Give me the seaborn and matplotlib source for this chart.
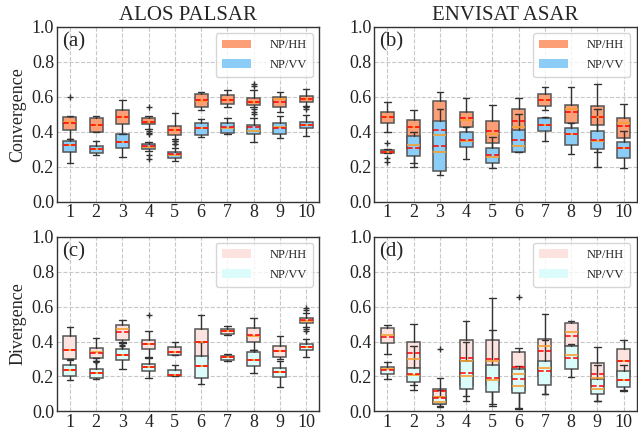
import matplotlib
matplotlib.use("Agg")
import matplotlib.pyplot as plt
from matplotlib.patches import Patch
import seaborn as sns

# categories
cats = [str(i) for i in range(1, 11)]

# box summaries: (whislo, q1, median, q3, whishi)
# (a) ALOS PALSAR - convergence
a_hh = [(0.36, 0.41, 0.455, 0.487, 0.49), (0.398, 0.40, 0.437, 0.476, 0.49),
        (0.39, 0.447, 0.487, 0.525, 0.58), (0.418, 0.447, 0.458, 0.476, 0.49),
        (0.36, 0.38, 0.41, 0.433, 0.506), (0.524, 0.539, 0.578, 0.615, 0.629),
        (0.539, 0.558, 0.583, 0.61, 0.64), (0.539, 0.552, 0.573, 0.592, 0.64),
        (0.514, 0.543, 0.587, 0.60, 0.63), (0.548, 0.573, 0.588, 0.602, 0.644)]
a_hh_mean = [0.453, 0.437, 0.487, 0.458, 0.412, 0.581, 0.583, 0.571, 0.571, 0.59]
a_hh_fliers = [[0.60], [], [], [0.539, 0.405, 0.395, 0.385], [0.347, 0.332],
               [], [], [0.676, 0.663, 0.53, 0.515, 0.50], [], [0.54, 0.533]]
a_vv = [(0.219, 0.286, 0.322, 0.347, 0.36), (0.27, 0.28, 0.30, 0.319, 0.347),
        (0.254, 0.31, 0.343, 0.39, 0.39), (0.29, 0.30, 0.315, 0.328, 0.343),
        (0.232, 0.25, 0.27, 0.286, 0.31), (0.368, 0.383, 0.42, 0.453, 0.472),
        (0.387, 0.392, 0.423, 0.448, 0.476), (0.343, 0.39, 0.406, 0.44, 0.48),
        (0.364, 0.387, 0.425, 0.448, 0.488), (0.377, 0.419, 0.436, 0.457, 0.495)]
a_vv_mean = [0.322, 0.30, 0.343, 0.317, 0.275, 0.42, 0.425, 0.425, 0.423, 0.438]
a_vv_fliers = [[], [], [], [0.267, 0.242], [0.33, 0.35], [], [], [], [], []]

# (b) ENVISAT ASAR - convergence
b_hh = [(0.40, 0.453, 0.484, 0.514, 0.573), (0.22, 0.30, 0.425, 0.467, 0.524),
        (0.20, 0.30, 0.383, 0.577, 0.625), (0.40, 0.43, 0.468, 0.516, 0.596),
        (0.30, 0.335, 0.387, 0.459, 0.552), (0.30, 0.35, 0.43, 0.53, 0.596),
        (0.524, 0.545, 0.58, 0.619, 0.659), (0.40, 0.45, 0.53, 0.552, 0.659),
        (0.287, 0.438, 0.482, 0.545, 0.672), (0.30, 0.362, 0.453, 0.478, 0.558)]
b_hh_mean = [0.486, 0.429, 0.41, 0.476, 0.406, 0.459, 0.581, 0.514, 0.482, 0.434]
b_hh_fliers = [[], [], [], [], [], [], [], [], [], []]
b_vv = [(0.276, 0.276, 0.282, 0.297, 0.30), (0.196, 0.259, 0.324, 0.373, 0.40),
        (0.152, 0.173, 0.286, 0.463, 0.533), (0.244, 0.314, 0.345, 0.396, 0.43),
        (0.192, 0.219, 0.253, 0.305, 0.368), (0.282, 0.286, 0.32, 0.41, 0.50),
        (0.349, 0.402, 0.437, 0.476, 0.482), (0.274, 0.324, 0.39, 0.419, 0.45),
        (0.20, 0.30, 0.345, 0.406, 0.53), (0.192, 0.248, 0.307, 0.339, 0.406)]
b_vv_mean = [0.282, 0.31, 0.316, 0.352, 0.267, 0.354, 0.438, 0.387, 0.354, 0.307]
b_vv_fliers = [[0.335, 0.248, 0.229], [], [], [], [], [], [], [], [], []]

# (c) ALOS PALSAR - divergence
c_hh = [(0.30, 0.30, 0.352, 0.429, 0.483), (0.306, 0.306, 0.338, 0.362, 0.421),
        (0.396, 0.406, 0.473, 0.492, 0.525), (0.31, 0.358, 0.383, 0.41, 0.458),
        (0.323, 0.325, 0.34, 0.367, 0.40), (0.24, 0.30, 0.40, 0.469, 0.55),
        (0.438, 0.444, 0.458, 0.473, 0.487), (0.354, 0.40, 0.431, 0.479, 0.537),
        (0.30, 0.31, 0.344, 0.377, 0.431), (0.483, 0.506, 0.52, 0.535, 0.565)]
c_hh_mean = [0.352, 0.335, 0.454, 0.383, 0.342, 0.40, 0.46, 0.438, 0.344, 0.521]
c_hh_fliers = [[], [0.29, 0.28], [0.38, 0.373], [0.55], [], [], [], [], [],
               [0.592, 0.579, 0.473, 0.46]]
c_vv = [(0.179, 0.20, 0.238, 0.265, 0.294), (0.185, 0.194, 0.219, 0.242, 0.29),
        (0.242, 0.296, 0.325, 0.358, 0.39), (0.194, 0.233, 0.252, 0.271, 0.306),
        (0.204, 0.204, 0.21, 0.237, 0.265), (0.156, 0.194, 0.262, 0.315, 0.40),
        (0.288, 0.296, 0.31, 0.319, 0.329), (0.219, 0.258, 0.296, 0.338, 0.354),
        (0.137, 0.198, 0.223, 0.246, 0.29), (0.31, 0.352, 0.367, 0.383, 0.415)]
c_vv_mean = [0.238, 0.219, 0.323, 0.252, 0.208, 0.262, 0.31, 0.296, 0.223, 0.367]
c_vv_fliers = [[], [], [], [], [], [], [], [], [], []]

# (d) ENVISAT ASAR - divergence
d_hh = [(0.329, 0.39, 0.435, 0.479, 0.492), (0.15, 0.25, 0.30, 0.40, 0.502),
        (0.03, 0.045, 0.08, 0.13, 0.19), (0.088, 0.15, 0.29, 0.406, 0.517),
        (0.04, 0.15, 0.29, 0.406, 0.65), (0.02, 0.12, 0.215, 0.338, 0.362),
        (0.10, 0.20, 0.373, 0.415, 0.556), (0.30, 0.373, 0.454, 0.508, 0.517),
        (0.06, 0.15, 0.193, 0.275, 0.367), (0.12, 0.20, 0.287, 0.358, 0.406)]
d_hh_mean = [0.425, 0.333, 0.115, 0.304, 0.30, 0.252, 0.344, 0.429, 0.213, 0.29]
d_hh_fliers = [[], [], [0.355], [], [], [0.656], [], [], [], []]
d_vv = [(0.185, 0.213, 0.242, 0.252, 0.285), (0.121, 0.169, 0.21, 0.248, 0.373),
        (0.025, 0.04, 0.055, 0.085, 0.12), (0.06, 0.131, 0.204, 0.29, 0.40),
        (0.031, 0.112, 0.181, 0.265, 0.467), (0.015, 0.108, 0.146, 0.242, 0.262),
        (0.098, 0.152, 0.246, 0.29, 0.41), (0.198, 0.242, 0.325, 0.373, 0.385),
        (0.06, 0.098, 0.127, 0.188, 0.265), (0.117, 0.137, 0.181, 0.229, 0.267)]
d_vv_mean = [0.237, 0.213, 0.075, 0.219, 0.194, 0.185, 0.233, 0.304, 0.146, 0.181]
d_vv_fliers = [[], [], [], [], [], [], [], [], [], []]

sns.set_theme(style="whitegrid", rc={
    "grid.linestyle": "--", "grid.color": "#c8c8c8", "grid.linewidth": 0.8,
    "axes.edgecolor": "#333333", "axes.linewidth": 1.0,
    "xtick.major.size": 0, "ytick.major.size": 0,
    "xtick.color": "#222222", "ytick.color": "#222222",
})
plt.rcParams["font.family"] = ["Liberation Serif", "DejaVu Serif"]


def make_stats(boxes, means, fliers):
    stats = []
    for (lo, q1, med, q3, hi), m, fl in zip(boxes, means, fliers):
        stats.append(dict(whislo=lo, q1=q1, med=med, q3=q3, whishi=hi,
                          mean=m, fliers=fl))
    return stats


def draw_boxes(ax, boxes, means, fliers, color):
    ax.bxp(make_stats(boxes, means, fliers), positions=range(1, 11), widths=0.5,
           patch_artist=True, showmeans=True, meanline=True,
           boxprops=dict(facecolor=color, edgecolor="#555555", linewidth=1.1),
           whiskerprops=dict(color="#333333", linewidth=1.0),
           capprops=dict(color="#333333", linewidth=1.0),
           medianprops=dict(color="#f5a030", linewidth=1.2, zorder=4),
           meanprops=dict(color="red", linestyle="--", linewidth=1.1, zorder=5),
           flierprops=dict(marker="+", markeredgecolor="#333333", markersize=5))


fig, axes = plt.subplots(2, 2, figsize=(6.38, 4.34), dpi=100)
fig.subplots_adjust(left=0.089, right=0.998, top=0.938, bottom=0.052,
                    wspace=0.21, hspace=0.20)

panels = [
    (axes[0, 0], a_hh, a_hh_mean, a_hh_fliers, a_vv, a_vv_mean, a_vv_fliers, "(a)"),
    (axes[0, 1], b_hh, b_hh_mean, b_hh_fliers, b_vv, b_vv_mean, b_vv_fliers, "(b)"),
    (axes[1, 0], c_hh, c_hh_mean, c_hh_fliers, c_vv, c_vv_mean, c_vv_fliers, "(c)"),
    (axes[1, 1], d_hh, d_hh_mean, d_hh_fliers, d_vv, d_vv_mean, d_vv_fliers, "(d)"),
]

for i, (ax, hh, hhm, hhf, vv, vvm, vvf, tag) in enumerate(panels):
    top = i < 2
    col_hh = "#fc9e76" if top else "#fde3e0"
    col_vv = "#8ccdf7" if top else "#dcfcfc"
    draw_boxes(ax, hh, hhm, hhf, col_hh)
    draw_boxes(ax, vv, vvm, vvf, col_vv)
    ax.set_xlim(0.5, 10.5)
    ax.set_ylim(0, 1.0)
    ax.set_yticks([0.0, 0.2, 0.4, 0.6, 0.8, 1.0])
    ax.set_yticklabels(["0.0", "0.2", "0.4", "0.6", "0.8", "1.0"])
    ax.set_xticks(range(1, 11))
    ax.set_xticklabels(cats)
    ax.tick_params(labelsize=13, pad=2)
    ax.grid(True, axis="both")
    ax.text(0.02, 0.97, tag, transform=ax.transAxes, va="top", ha="left",
            fontsize=15)
    handles = [Patch(facecolor=col_hh, edgecolor="none", label="NP/HH"),
               Patch(facecolor=col_vv, edgecolor="none", label="NP/VV")]
    ax.legend(handles=handles, loc="upper right", fontsize=9, frameon=True,
              handlelength=2.3, borderpad=0.5, labelspacing=0.6,
              handletextpad=1.5)

axes[0, 0].set_title("ALOS PALSAR", fontsize=15, pad=5)
axes[0, 1].set_title("ENVISAT ASAR", fontsize=15, pad=5)
axes[0, 0].set_ylabel("Convergence", fontsize=13, labelpad=4)
axes[1, 0].set_ylabel("Divergence", fontsize=13, labelpad=4)

fig.savefig("out.png", dpi=100)
